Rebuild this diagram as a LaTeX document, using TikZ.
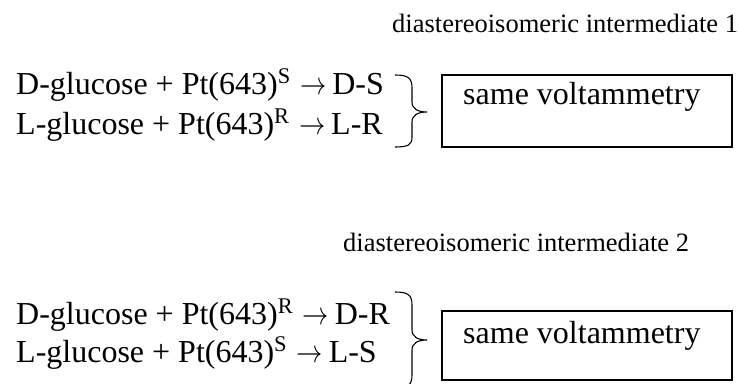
\RequirePackage{fix-cm}
\documentclass[tikz,border=0pt]{standalone}
\usepackage{fontspec}
\setmainfont{Liberation Serif}
\tikzset{
  eqtext/.style={anchor=base west, inner sep=0pt, font=\fontsize{32}{38}\selectfont},
  labeltext/.style={anchor=base west, inner sep=0pt, font=\fontsize{26.5}{31}\selectfont},
  resultbox/.style={draw, line width=1.2pt, minimum width=290pt, inner sep=0pt},
  bracepath/.style={line width=1.1pt},
}
% reaction arrow, slightly narrowed
\newcommand{\yields}{\hspace{0.3em}\scalebox{0.82}[1]{$\rightarrow$}\hspace{0.18em}}
\begin{document}
\begin{tikzpicture}[x=1pt,y=1pt]
\useasboundingbox (0,0) rectangle (739,383);

% first pair
\node[labeltext] (lab1) at (392,350) {diastereoisomeric intermediate 1};
\node[eqtext] (eq1) at (16,288) {D-glucose + Pt(643)\textsuperscript{S}\yields D-S};
\node[eqtext] (eq2) at (16,248) {L-glucose + Pt(643)\textsuperscript{R}\yields L-R};
\draw[bracepath] (395,308) .. controls (408,308) and (412,305) .. (412,295) -- (412,281)
  .. controls (412,274) and (418,271) .. (427,271)
  .. controls (418,271) and (412,268) .. (412,261) -- (412,246)
  .. controls (412,238) and (408,236) .. (395,236);
\node[resultbox, minimum height=72pt] (box1) at (587,272) {};
\node[eqtext] (res1) at (463,278) {same voltammetry};

% second pair
\node[labeltext] (lab2) at (343,131) {diastereoisomeric intermediate 2};
\node[eqtext] (eq3) at (16,58) {D-glucose + Pt(643)\textsuperscript{R}\yields D-R};
\node[eqtext] (eq4) at (16,20) {L-glucose + Pt(643)\textsuperscript{S}\yields L-S};
\draw[bracepath] (395,91) .. controls (408,91) and (412,88) .. (412,78) -- (412,53)
  .. controls (412,46) and (418,43) .. (427,43)
  .. controls (418,43) and (412,40) .. (412,33) -- (412,8)
  .. controls (412,-2) and (408,-5) .. (395,-5);
\node[resultbox, minimum height=69pt] (box2) at (587,37.5) {};
\node[eqtext] (res2) at (463,40) {same voltammetry};
\end{tikzpicture}
\end{document}
